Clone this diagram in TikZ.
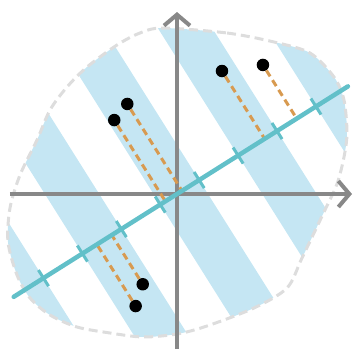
\documentclass[tikz,border=0pt]{standalone}
\usepackage{tikz}
\usetikzlibrary{arrows.meta}
\definecolor{stripeblue}{HTML}{C5E6F3}
\definecolor{lineteal}{HTML}{62C0C9}
\definecolor{projorange}{HTML}{D89A50}
\definecolor{axisgray}{HTML}{888888}
\definecolor{blobgray}{HTML}{DDDDDD}

\begin{document}
\begin{tikzpicture}[
  x=1pt, y=1pt,
  axis/.style={line width=4pt, color=axisgray, -{Straight Barb[length=11pt, width=26pt]}},
  blob/.style={line width=3pt, color=blobgray, dash pattern=on 9pt off 5pt},
  projline/.style={line width=4.5pt, color=lineteal, line cap=round},
  tickmark/.style={line width=3pt, color=lineteal},
  proj/.style={line width=3pt, color=projorange, dash pattern=on 7pt off 4.5pt},
  dot/.style={circle, fill=black, minimum size=12.5pt, inner sep=0pt},
]
\useasboundingbox (-177,-155) rectangle (177,194);

% outline of the region
\path[save path=\blobshape] plot[smooth cycle] coordinates {
  (-14,166) (50,161) (97,152) (133,141) (157,117) (167,94) (170,61)
  (167,37) (160,10) (147,-18) (125,-64) (110,-94) (77,-114) (30,-132)
  (0,-140) (-34,-143) (-67,-139) (-100,-133) (-127,-121) (-147,-104)
  (-160,-81) (-169,-48) (-167,-14) (-157,19) (-140,54) (-127,84)
  (-110,107) (-90,127) (-60,149) (-37,161)};

% stripes
\begin{scope}
  \clip[use path=\blobshape];
  \begin{scope}[rotate=32.2]
    \foreach \s in {-203.8,-111.8,-19.8,72.2,164.2}
      \fill[stripeblue] (\s,-260) rectangle ++(46,520);
  \end{scope}
\end{scope}
\draw[blob, use path=\blobshape];

% axes
\coordinate (xstart) at (-167,0);
\coordinate (xend) at (175,0);
\coordinate (ystart) at (0,-155);
\coordinate (yend) at (0,182);
\draw[axis] (xstart) -- (xend);
\draw[axis] (ystart) -- (yend);

% projection line, points and their projections
\begin{scope}[rotate=32.2]
  \coordinate (lstart) at (-193,0);
  \coordinate (lend) at (202,0);
  \foreach \t/\n [count=\i] in {5.9/102.7, -13.7/96, 103.6/80.1, 141.5/63.4, -77.1/-58.1, -94.7/-72.8} {
    \node[dot] (p\i) at (\t,\n) {};
    \coordinate (q\i) at (\t,0);
    \draw[proj] (p\i) -- (q\i);
  }
  \draw[projline] (lstart) -- (lend);
  \foreach \t in {-157.8,-111.8,-65.8,-19.8,26.2,72.2,118.2,164.2}
    \draw[tickmark] (\t,-9.5) -- (\t,9.5);
\end{scope}
\end{tikzpicture}
\end{document}
